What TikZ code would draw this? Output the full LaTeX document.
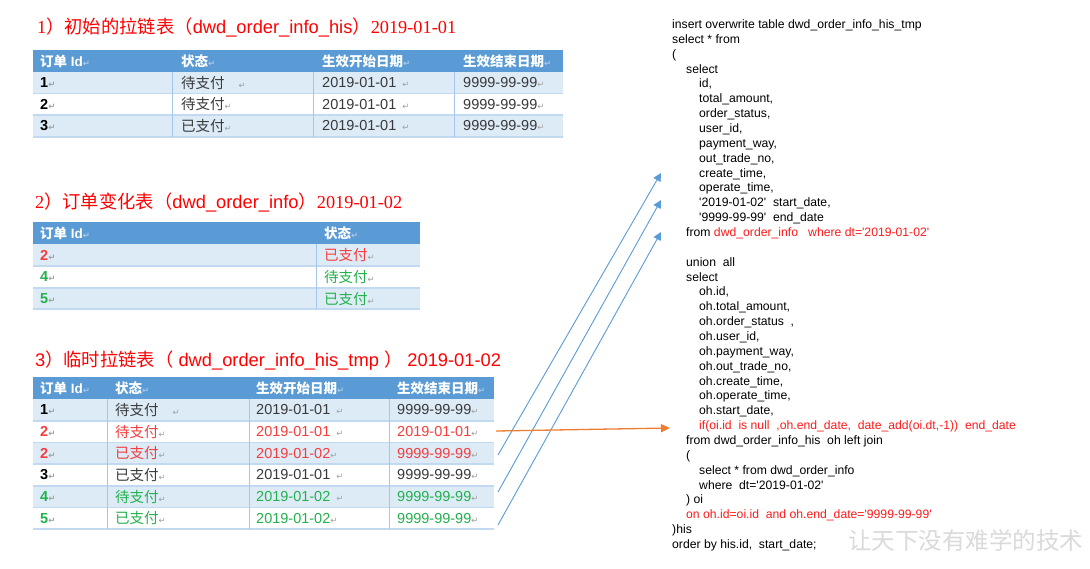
\documentclass[tikz,border=0pt]{standalone}
\usepackage{fontspec}
\setmainfont{Liberation Sans}[Ligatures=TeXOff]
\newfontfamily\cjk{Noto Sans CJK SC}
\newfontfamily\tnr{Liberation Serif}[Ligatures=TeXOff]
\newfontfamily\dv{DejaVu Sans}
\usetikzlibrary{arrows.meta,calc}
\definecolor{hdr}{HTML}{5B9BD5}
\definecolor{rowl}{HTML}{DDEBF7}
\definecolor{rowline}{HTML}{C2D9F0}
\definecolor{vline}{HTML}{A4C6EA}
\definecolor{txt}{HTML}{3A3A3A}
\definecolor{tred}{HTML}{F53D3D}
\definecolor{tgreen}{HTML}{22B14C}
\definecolor{sred}{HTML}{FF1A1A}
\definecolor{arrblue}{HTML}{5B9BD5}
\definecolor{arrorange}{HTML}{ED7D31}
\definecolor{markc}{HTML}{A0A0A0}
\definecolor{markh}{HTML}{A9C8EA}
\definecolor{wm}{HTML}{DADADA}
\newcommand\zh[1]{{\cjk #1}}
\newcommand\pmk{{\dv\fontsize{8.5}{9}\selectfont\color{markc}↵}}
\newcommand\pmh{{\dv\fontsize{8.5}{9}\selectfont\color{markh}↵}}
\begin{document}
\begin{tikzpicture}[x=1pt,y=-1pt,
  sql/.style={anchor=base west, inner sep=0pt, font=\fontsize{12.2}{14}\selectfont, text=black},
  sqlred/.style={sql, text=sred},
  cell/.style={anchor=west, inner sep=0pt, font=\fontsize{14.5}{16}\selectfont, text=txt},
  idcell/.style={anchor=west, inner sep=0pt, font=\fontsize{14.5}{16}\selectfont\bfseries, text=black},
  hcell/.style={anchor=west, inner sep=0pt, font=\fontsize{13.5}{16}\selectfont\bfseries, text=white},
  title/.style={anchor=west, inner sep=0pt, font=\fontsize{18.3}{20}\selectfont, text=red},
  hline/.style={draw=rowline, line width=1.6pt},
  vsep/.style={draw=vline, line width=0.9pt},
  bluearrow/.style={draw=arrblue, line width=0.9pt, -{Triangle[length=8pt,width=8pt]}},
  orangearrow/.style={draw=arrorange, line width=1.3pt, -{Triangle[length=9pt,width=8pt]}}
]
\useasboundingbox (0,0) rectangle (1090,568);
\fill[white] (0,0) rectangle (1090,568);

% ---------- Table 1 ----------
\node[title] (title1) at (37,27) {{\tnr 1}\zh{）初始的拉链表（}dwd\_order\_info\_his\zh{）}{\tnr 2019-01-01}};
\fill[hdr] (33,50) rectangle (563,72);
\fill[rowl] (33,72) rectangle (563,93.5);
\fill[rowl] (33,115) rectangle (563,137);
\foreach \yy in {93.5,115,137} \draw[hline] (33,\yy) -- (563,\yy);
\foreach \xx in {172,313,454} \draw[vsep] (\xx,72) -- (\xx,137);
\node[hcell] (t1h1) at (40,61) {\zh{订单} Id\pmh};
\node[hcell] (t1h2) at (181,61) {\zh{状态}\pmh};
\node[hcell] (t1h3) at (322,61) {\zh{生效开始日期}\pmh};
\node[hcell] (t1h4) at (463,61) {\zh{生效结束日期}\pmh};
\node[idcell] (t1r1c1) at (40,82.75) {1\pmk};
\node[cell] (t1r1c2) at (181,82.75) {\zh{待支付}\hspace{14pt}\pmk};
\node[cell] (t1r1c3) at (322,82.75) {2019-01-01\hspace{6pt}\pmk};
\node[cell] (t1r1c4) at (463,82.75) {9999-99-99\pmk};
\node[idcell] (t1r2c1) at (40,104.25) {2\pmk};
\node[cell] (t1r2c2) at (181,104.25) {\zh{待支付}\pmk};
\node[cell] (t1r2c3) at (322,104.25) {2019-01-01\hspace{6pt}\pmk};
\node[cell] (t1r2c4) at (463,104.25) {9999-99-99\pmk};
\node[idcell] (t1r3c1) at (40,126) {3\pmk};
\node[cell] (t1r3c2) at (181,126) {\zh{已支付}\pmk};
\node[cell] (t1r3c3) at (322,126) {2019-01-01\hspace{6pt}\pmk};
\node[cell] (t1r3c4) at (463,126) {9999-99-99\pmk};

% ---------- Table 2 ----------
\node[title] (title2) at (35,202) {{\tnr 2}\zh{）订单变化表（}dwd\_order\_info\zh{）}{\tnr 2019-01-02}};
\fill[hdr] (33,222) rectangle (420,244);
\fill[rowl] (33,244) rectangle (420,266);
\fill[rowl] (33,288) rectangle (420,309);
\foreach \yy in {266,288,309} \draw[hline] (33,\yy) -- (420,\yy);
\draw[vsep] (316,244) -- (316,309);
\node[hcell] (t2h1) at (40,233) {\zh{订单} Id\pmh};
\node[hcell] (t2h2) at (324,233) {\zh{状态}\pmh};
\node[idcell, text=tred] (t2r1c1) at (40,255) {2\pmk};
\node[cell, text=tred] (t2r1c2) at (324,255) {\zh{已支付}\pmk};
\node[idcell, text=tgreen] (t2r2c1) at (40,277) {4\pmk};
\node[cell, text=tgreen] (t2r2c2) at (324,277) {\zh{待支付}\pmk};
\node[idcell, text=tgreen] (t2r3c1) at (40,298.5) {5\pmk};
\node[cell, text=tgreen] (t2r3c2) at (324,298.5) {\zh{已支付}\pmk};

% ---------- Table 3 ----------
\node[title] (title3) at (35,361) {3\zh{）临时拉链表（} dwd\_order\_info\_his\_tmp \zh{）} 2019-01-02};
\fill[hdr] (33,377) rectangle (494,399);
\fill[rowl] (33,399) rectangle (494,420.7);
\fill[rowl] (33,442.4) rectangle (494,464.1);
\fill[rowl] (33,485.8) rectangle (494,507.5);
\foreach \yy in {420.7,442.4,464.1,485.8,507.5,529.2} \draw[hline] (33,\yy) -- (494,\yy);
\foreach \xx in {107,249,389} \draw[vsep] (\xx,399) -- (\xx,529.2);
\node[hcell] (t3h1) at (40,388) {\zh{订单} Id\pmh};
\node[hcell] (t3h2) at (115,388) {\zh{状态}\pmh};
\node[hcell] (t3h3) at (256,388) {\zh{生效开始日期}\pmh};
\node[hcell] (t3h4) at (397,388) {\zh{生效结束日期}\pmh};
\node[idcell] (t3r1c1) at (40,409.85) {1\pmk};
\node[cell] (t3r1c2) at (115,409.85) {\zh{待支付}\hspace{14pt}\pmk};
\node[cell] (t3r1c3) at (256,409.85) {2019-01-01\hspace{6pt}\pmk};
\node[cell] (t3r1c4) at (397,409.85) {9999-99-99\pmk};
\node[idcell, text=tred] (t3r2c1) at (40,431.55) {2\pmk};
\node[cell, text=tred] (t3r2c2) at (115,431.55) {\zh{待支付}\pmk};
\node[cell, text=tred] (t3r2c3) at (256,431.55) {2019-01-01\hspace{6pt}\pmk};
\node[cell, text=tred] (t3r2c4) at (397,431.55) {2019-01-01\pmk};
\node[idcell, text=tred] (t3r3c1) at (40,453.25) {2\pmk};
\node[cell, text=tred] (t3r3c2) at (115,453.25) {\zh{已支付}\pmk};
\node[cell, text=tred] (t3r3c3) at (256,453.25) {2019-01-02\pmk};
\node[cell, text=tred] (t3r3c4) at (397,453.25) {9999-99-99\pmk};
\node[idcell] (t3r4c1) at (40,474.95) {3\pmk};
\node[cell] (t3r4c2) at (115,474.95) {\zh{已支付}\pmk};
\node[cell] (t3r4c3) at (256,474.95) {2019-01-01\hspace{6pt}\pmk};
\node[cell] (t3r4c4) at (397,474.95) {9999-99-99\pmk};
\node[idcell, text=tgreen] (t3r5c1) at (40,496.65) {4\pmk};
\node[cell, text=tgreen] (t3r5c2) at (115,496.65) {\zh{待支付}\pmk};
\node[cell, text=tgreen] (t3r5c3) at (256,496.65) {2019-01-02\hspace{6pt}\pmk};
\node[cell, text=tgreen] (t3r5c4) at (397,496.65) {9999-99-99\pmk};
\node[idcell, text=tgreen] (t3r6c1) at (40,518.35) {5\pmk};
\node[cell, text=tgreen] (t3r6c2) at (115,518.35) {\zh{已支付}\pmk};
\node[cell, text=tgreen] (t3r6c3) at (256,518.35) {2019-01-02\pmk};
\node[cell, text=tgreen] (t3r6c4) at (397,518.35) {9999-99-99\pmk};

% ---------- SQL ----------
\node[sql] (s01) at (672,28.5) {insert overwrite table dwd\_order\_info\_his\_tmp};
\node[sql] (s02) at (672,43.36) {select * from};
\node[sql] (s03) at (672,58.21) {(};
\node[sql] (s04) at (686,73.07) {select};
\node[sql] (s05) at (699,87.93) {id,};
\node[sql] (s06) at (699,102.79) {total\_amount,};
\node[sql] (s07) at (699,117.64) {order\_status,};
\node[sql] (s08) at (699,132.5) {user\_id,};
\node[sql] (s09) at (699,147.36) {payment\_way,};
\node[sql] (s10) at (699,162.21) {out\_trade\_no,};
\node[sql] (s11) at (699,177.07) {create\_time,};
\node[sql] (s12) at (699,191.93) {operate\_time,};
\node[sql] (s13) at (699,206.79) {'2019-01-02'\ \ start\_date,};
\node[sql] (s14) at (699,221.64) {'9999-99-99'\ \ end\_date};
\node[sql] (s15) at (686,236.5) {from \textcolor{sred}{dwd\_order\_info\ \ \ where dt='2019-01-02'}};
\node[sql] (s17) at (686,266.21) {union\ \ all};
\node[sql] (s18) at (686,281.07) {select};
\node[sql] (s19) at (699,295.93) {oh.id,};
\node[sql] (s20) at (699,310.79) {oh.total\_amount,};
\node[sql] (s21) at (699,325.64) {oh.order\_status\ \ ,};
\node[sql] (s22) at (699,340.5) {oh.user\_id,};
\node[sql] (s23) at (699,355.36) {oh.payment\_way,};
\node[sql] (s24) at (699,370.21) {oh.out\_trade\_no,};
\node[sql] (s25) at (699,385.07) {oh.create\_time,};
\node[sql] (s26) at (699,399.93) {oh.operate\_time,};
\node[sql] (s27) at (699,414.79) {oh.start\_date,};
\node[sqlred] (s28) at (699,429.64) {if(oi.id\ \ is null\ \ ,oh.end\_date,\ \ date\_add(oi.dt,-1))\ \ end\_date};
\node[sql] (s29) at (686,444.5) {from dwd\_order\_info\_his\ \ oh left join};
\node[sql] (s30) at (686,459.36) {(};
\node[sql] (s31) at (699,474.21) {select * from dwd\_order\_info};
\node[sql] (s32) at (699,489.07) {where\ \ dt='2019-01-02'};
\node[sql] (s33) at (686,503.93) {) oi};
\node[sqlred] (s34) at (686,518.79) {on oh.id=oi.id\ \ and oh.end\_date='9999-99-99'};
\node[sql] (s35) at (672,533.64) {)his};
\node[sql] (s36) at (672,548.5) {order by his.id,\ \ start\_date;};

% ---------- watermark ----------
\node[anchor=west, inner sep=0pt, text=wm, font=\cjk\fontsize{23.5}{25}\selectfont] (wmark) at (848,540) {让天下没有难学的技术};

% ---------- arrows ----------
\coordinate (b1s) at (498,455);
\coordinate (b1e) at (661,173);
\coordinate (b2s) at (498,492);
\coordinate (b2e) at (661,200);
\coordinate (b3s) at (498,525);
\coordinate (b3e) at (661,232);
\coordinate (o1s) at (496,431);
\coordinate (o1e) at (670,428);
\draw[bluearrow] (b1s) -- (b1e);
\draw[bluearrow] (b2s) -- (b2e);
\draw[bluearrow] (b3s) -- (b3e);
\draw[orangearrow] (o1s) -- (o1e);
\end{tikzpicture}
\end{document}
